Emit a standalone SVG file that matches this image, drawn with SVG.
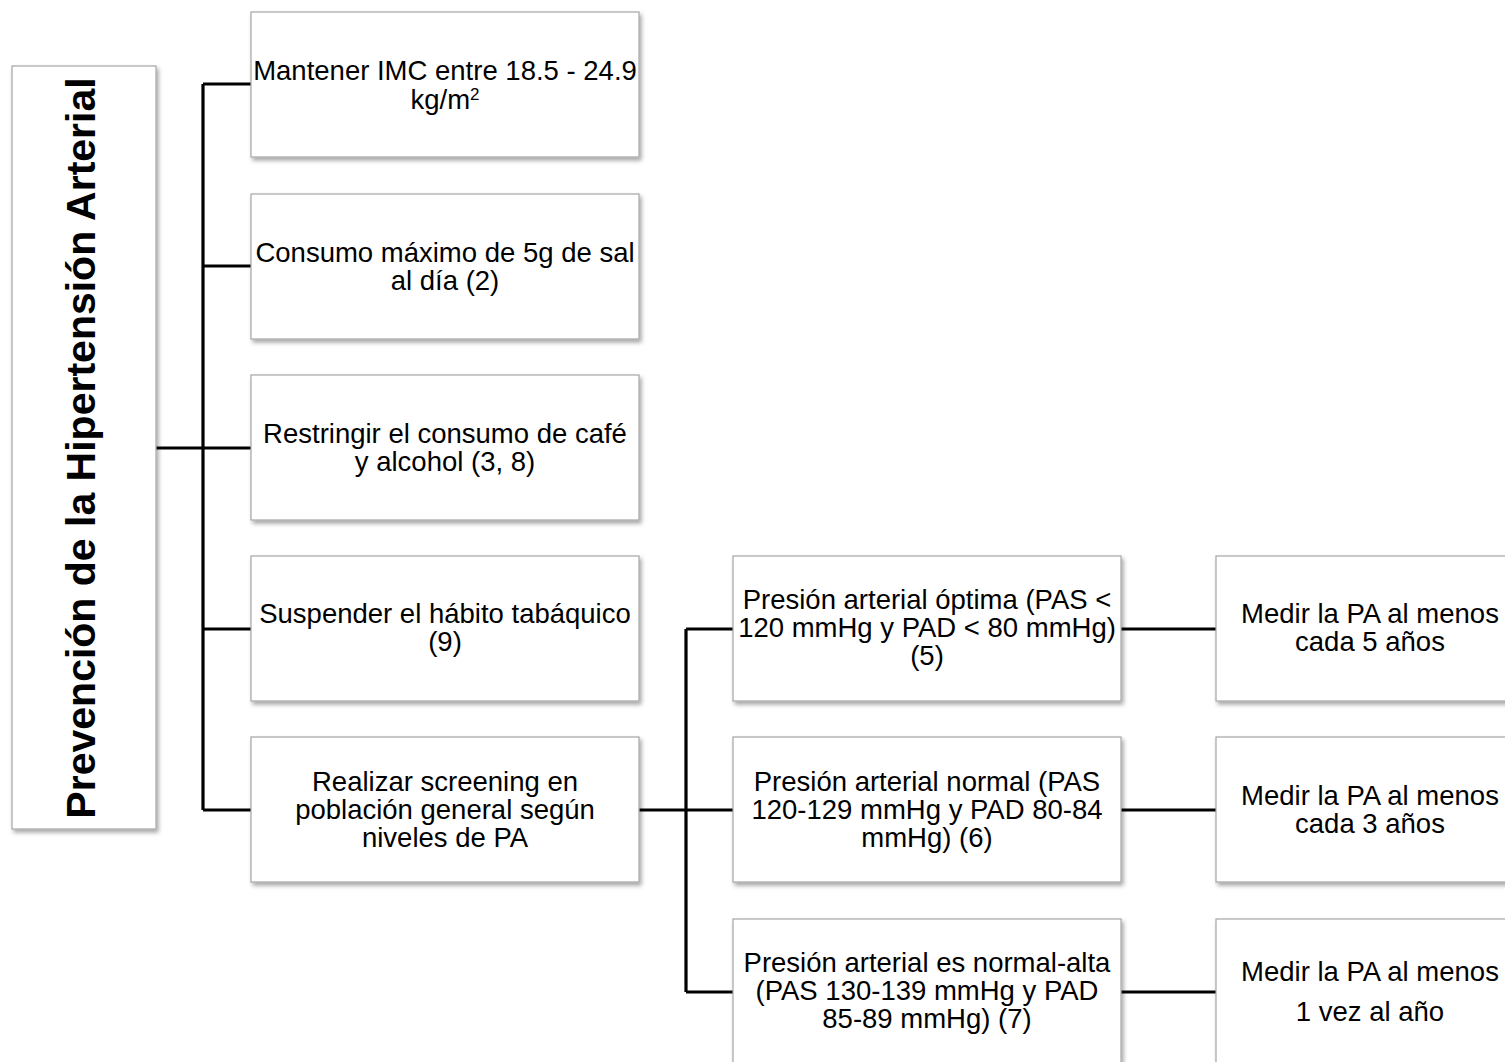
<svg xmlns="http://www.w3.org/2000/svg" width="1505" height="1062" viewBox="0 0 1505 1062">
<defs>
<filter id="sh" x="-5%" y="-5%" width="115%" height="115%">
<feDropShadow dx="2" dy="3" stdDeviation="2" flood-color="#000" flood-opacity="0.35"/>
</filter>
</defs>
<style>
.box{fill:#fff;stroke:#a6a6a6;stroke-width:1.2;filter:url(#sh)}
.t{font-family:"Liberation Sans",Arial,sans-serif;font-size:27.5px;fill:#000;text-anchor:middle}
.title{font-family:"Liberation Sans",Arial,sans-serif;font-size:41px;font-weight:bold;fill:#000;text-anchor:middle}
.c{fill:none;stroke:#000;stroke-width:3.2}
</style>
<rect width="1505" height="1062" fill="#fff"/>
<g id="connectors">
<path class="c" d="M156,448H203M203,84V810M203,84H251M203,266H251M203,448H251M203,629H251M203,810H251"/>
<path class="c" d="M639,810H686M686,629V992M686,629H733M686,810H733M686,992H733"/>
<path class="c" d="M1121,629H1216M1121,810H1216M1121,992H1216"/>
</g>
<g id="n0"><rect class="box" x="12" y="66" width="144" height="763"/>
<text class="title" transform="translate(95,448) rotate(-90)">Prevención de la Hipertensión Arterial</text></g>
<g id="n1"><rect class="box" x="251" y="12" width="388" height="145"/>
<text class="t" x="445" y="80">Mantener IMC entre 18.5 - 24.9</text>
<text class="t" x="445" y="109">kg/m<tspan font-size="17" dy="-9">2</tspan></text></g>
<g id="n2"><rect class="box" x="251" y="194" width="388" height="145"/>
<text class="t" x="445" y="262">Consumo máximo de 5g de sal</text>
<text class="t" x="445" y="290">al día (2)</text></g>
<g id="n3"><rect class="box" x="251" y="375" width="388" height="145"/>
<text class="t" x="445" y="443">Restringir el consumo de café</text>
<text class="t" x="445" y="471">y alcohol (3, 8)</text></g>
<g id="n4"><rect class="box" x="251" y="556" width="388" height="145"/>
<text class="t" x="445" y="623">Suspender el hábito tabáquico</text>
<text class="t" x="445" y="651">(9)</text></g>
<g id="n5"><rect class="box" x="251" y="737" width="388" height="145"/>
<text class="t" x="445" y="791">Realizar screening en</text>
<text class="t" x="445" y="819">población general según</text>
<text class="t" x="445" y="847">niveles de PA</text></g>
<g id="n6"><rect class="box" x="733" y="556" width="388" height="145"/>
<text class="t" x="927" y="609">Presión arterial óptima (PAS &lt;</text>
<text class="t" x="927" y="637">120 mmHg y PAD &lt; 80 mmHg)</text>
<text class="t" x="927" y="665">(5)</text></g>
<g id="n7"><rect class="box" x="733" y="737" width="388" height="145"/>
<text class="t" x="927" y="791">Presión arterial normal (PAS</text>
<text class="t" x="927" y="819">120-129 mmHg y PAD 80-84</text>
<text class="t" x="927" y="847">mmHg) (6)</text></g>
<g id="n8"><rect class="box" x="733" y="919" width="388" height="160"/>
<text class="t" x="927" y="972">Presión arterial es normal-alta</text>
<text class="t" x="927" y="1000">(PAS 130-139 mmHg y PAD</text>
<text class="t" x="927" y="1028">85-89 mmHg) (7)</text></g>
<g id="n9"><rect class="box" x="1216" y="556" width="310" height="145"/>
<text class="t" x="1370" y="623">Medir la PA al menos</text>
<text class="t" x="1370" y="651">cada 5 años</text></g>
<g id="n10"><rect class="box" x="1216" y="737" width="310" height="145"/>
<text class="t" x="1370" y="805">Medir la PA al menos</text>
<text class="t" x="1370" y="833">cada 3 años</text></g>
<g id="n11"><rect class="box" x="1216" y="919" width="310" height="160"/>
<text class="t" x="1370" y="981">Medir la PA al menos</text>
<text class="t" x="1370" y="1021">1 vez al año</text></g>
</svg>
